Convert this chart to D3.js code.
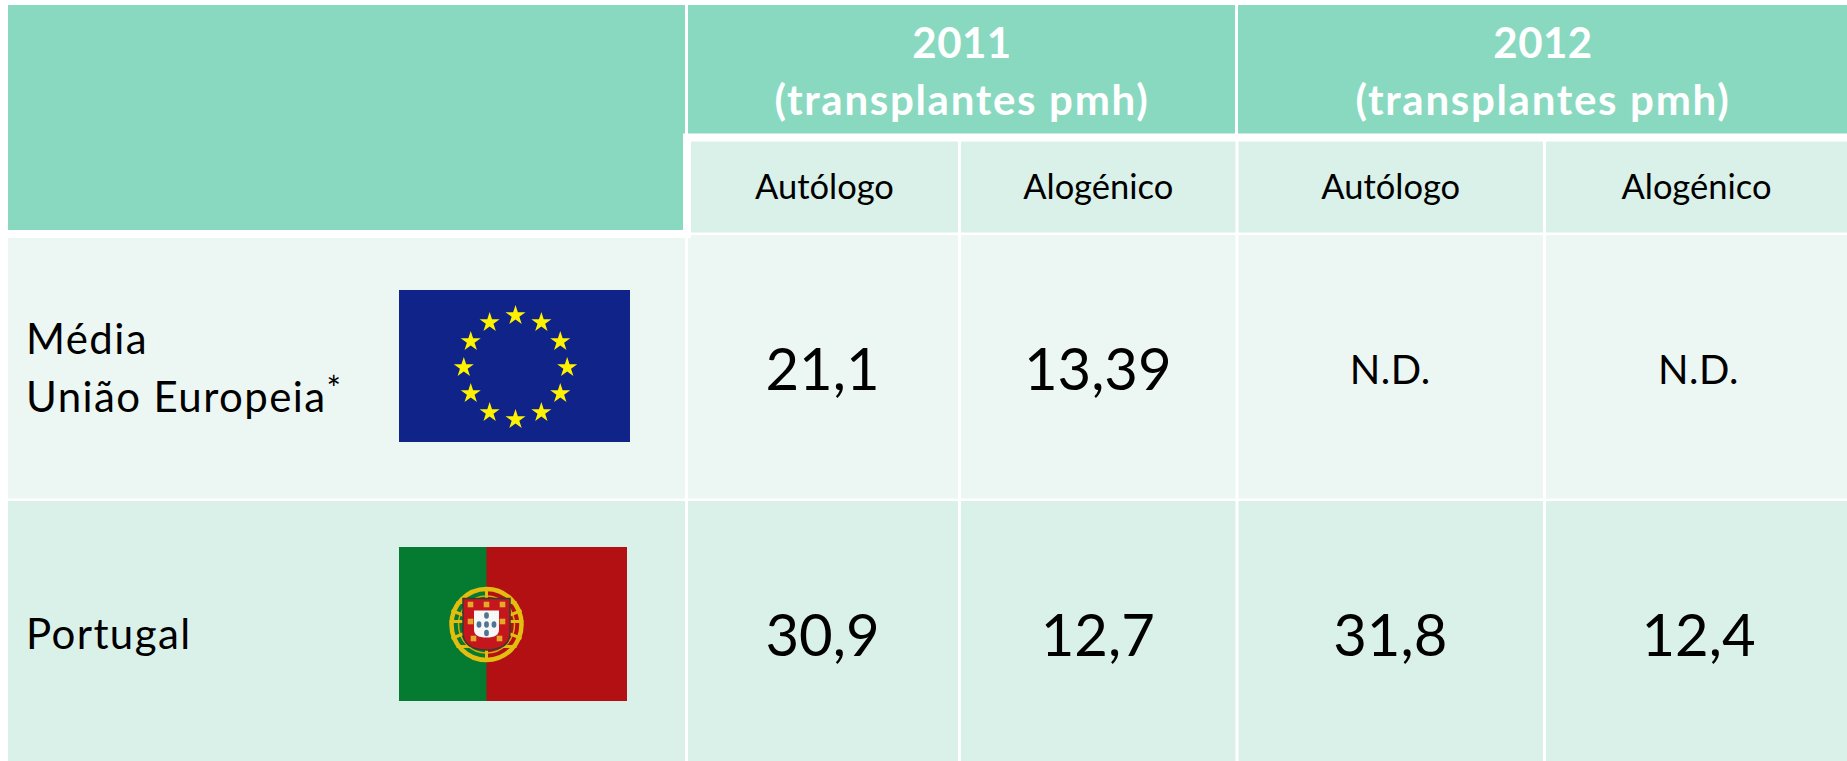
<!DOCTYPE html>
<html>
<head>
<meta charset="utf-8">
<script src="https://cdn.jsdelivr.net/npm/d3@7"></script>
<style>
html, body { margin: 0; padding: 0; background: #fff; overflow: hidden; }
text { font-family: Lato, "Open Sans", sans-serif; }
</style>
</head>
<body>
<script>
var years = ["2011", "2012"];
var unitLabel = "(transplantes pmh)";
var types = ["Autólogo", "Alogénico"];
var regions = ["Média União Europeia", "Portugal"];
var euValues = ["21,1", "13,39", "N.D.", "N.D."];
var ptValues = ["30,9", "12,7", "31,8", "12,4"];
var columns = ["2011 Autólogo", "2011 Alogénico", "2012 Autólogo", "2012 Alogénico"];

var green = "#89d9c1", pale = "#daf1e9", paler = "#ecf7f3";

var canvas = d3.select("body").append("svg")
    .attr("width", 1847)
    .attr("height", 761)
    .style("display", "block");

var colEdges = [686, 959, 1236.5, 1544, 1847];
var colX = d3.scaleOrdinal().domain(columns).range(colEdges.slice(0, 4));
var colW = d3.scaleOrdinal().domain(columns).range(d3.pairs(colEdges).map(function(p){ return p[1] - p[0]; }));
var rowY = d3.scaleOrdinal().domain(regions).range([235, 501]);
var rowH = d3.scaleOrdinal().domain(regions).range([263.5, 260]);
var rowFill = d3.scaleOrdinal().domain(regions).range([paler, pale]);

// header
canvas.append("rect").attr("x", 8).attr("y", 5).attr("width", 677).attr("height", 128.5).attr("fill", green);
canvas.append("rect").attr("x", 8).attr("y", 133).attr("width", 675).attr("height", 97).attr("fill", green);
canvas.append("rect").attr("x", 688).attr("y", 5).attr("width", 547).attr("height", 128.5).attr("fill", green);
canvas.append("rect").attr("x", 1238).attr("y", 5).attr("width", 609).attr("height", 128.5).attr("fill", green);

years.forEach(function(y, i){
    var cx = i == 0 ? 962 : 1543;
    canvas.append("text").attr("x", cx).attr("y", 58)
        .attr("text-anchor", "middle").attr("font-size", 42).attr("font-weight", 700)
        .attr("letter-spacing", 0.5)
        .attr("fill", "#fff").text(y);
    canvas.append("text").attr("x", cx).attr("y", 115)
        .attr("text-anchor", "middle").attr("font-size", 42).attr("font-weight", 700)
        .attr("letter-spacing", 1.7)
        .attr("fill", "#fff").text(unitLabel);
});

// sub header
columns.forEach(function(c, i){
    var left = i == 0 ? 691 : colX(c) + 2;
    var right = colX(c) + colW(c) - (i == 3 ? 0 : 1);
    canvas.append("rect").attr("x", left).attr("y", 141.5).attr("width", right - left).attr("height", 91).attr("fill", pale);
    canvas.append("text").attr("x", (left + right) / 2).attr("y", 199)
        .attr("text-anchor", "middle").attr("font-size", 34.5).attr("fill", "#000")
        .text(types[i % 2]);
});

// body rows
regions.forEach(function(r, k){
    canvas.append("rect").attr("x", 8).attr("y", k == 0 ? 238 : rowY(r)).attr("width", 677)
        .attr("height", k == 0 ? 260.5 : rowH(r)).attr("fill", rowFill(r));
    columns.forEach(function(c, i){
        canvas.append("rect").attr("x", colX(c) + 2).attr("y", rowY(r))
            .attr("width", colW(c) - (i == 3 ? 2 : 3)).attr("height", rowH(r)).attr("fill", rowFill(r));
    });
});
// white corner under the big header cell
canvas.append("rect").attr("x", 683).attr("y", 230).attr("width", 8).attr("height", 8).attr("fill", "#fff");

canvas.selectAll("text.label")
    .data([["Média", 354], ["União Europeia", 411.5], ["Portugal", 649]])
    .join("text")
    .attr("class", "label")
    .attr("x", 26)
    .attr("y", function(d){ return d[1]; })
    .attr("font-size", 42)
    .attr("letter-spacing", 1.4)
    .attr("fill", "#000")
    .text(function(d){ return d[0]; })
    .filter(function(d){ return d[0] == "União Europeia"; })
    .append("tspan").attr("font-size", 34).attr("dy", -10.5).text("*");

function drawValues(values, baseline){
    columns.forEach(function(c, i){
        var nd = values[i] == "N.D.";
        canvas.append("text")
            .attr("x", colX(c) + colW(c) / 2 + (i == 3 ? 3 : 0))
            .attr("y", nd ? 383.5 : baseline)
            .attr("text-anchor", "middle")
            .attr("font-size", nd ? 40 : 58)
            .attr("letter-spacing", nd ? 0.5 : 0)
            .attr("fill", "#000")
            .text(values[i]);
    });
}
drawValues(euValues, 390);
drawValues(ptValues, 655.5);

// EU flag
canvas.append("rect").attr("x", 399).attr("y", 290).attr("width", 231).attr("height", 152).attr("fill", "#0f2388");
var star = d3.symbol().type(d3.symbolStar).size(125);
d3.range(12).forEach(function(i){
    var a = i * Math.PI / 6;
    canvas.append("path").attr("d", star)
        .attr("transform", "translate(" + (515.5 + 51.7 * Math.sin(a)) + "," + (367.5 - 52 * Math.cos(a)) + ")")
        .attr("fill", "#fff200");
});

// Portuguese flag
canvas.append("rect").attr("x", 399).attr("y", 547).attr("width", 228).attr("height", 154).attr("fill", "#b31013");
canvas.append("rect").attr("x", 399).attr("y", 547).attr("width", 87.5).attr("height", 154).attr("fill", "#047b30");

var arms = canvas.append("g").attr("transform", "translate(486.5,624.5)");
arms.append("ellipse").attr("rx", 35).attr("ry", 35.5)
    .attr("fill", "none").attr("stroke", "#e3bd10").attr("stroke-width", 4.5);
arms.append("ellipse").attr("rx", 28).attr("ry", 28.5)
    .attr("fill", "none").attr("stroke", "#d9a90c").attr("stroke-width", 1.5);
[[-37, -3, 37, -3], [0, -37, 0, 37], [-35, -14, 35, 14], [-35, 14, 35, -14], [-30, 22, 30, 22], [-30, -22, 30, -22]].forEach(function(s){
    arms.append("line").attr("x1", s[0]).attr("y1", s[1]).attr("x2", s[2]).attr("y2", s[3])
        .attr("stroke", "#e3bd10").attr("stroke-width", 3);
});
var shieldPath = d3.path();
shieldPath.moveTo(-23.5, -26);
shieldPath.lineTo(23.5, -26);
shieldPath.lineTo(23.5, 8);
shieldPath.quadraticCurveTo(23.5, 25, 0, 25.5);
shieldPath.quadraticCurveTo(-23.5, 25, -23.5, 8);
shieldPath.closePath();
arms.append("path").attr("d", shieldPath.toString()).attr("fill", "#c4161c").attr("stroke", "#3a3a30").attr("stroke-width", 1.5);
var innerPath = d3.path();
innerPath.moveTo(-12.5, -14);
innerPath.lineTo(12.5, -14);
innerPath.lineTo(12.5, 5);
innerPath.quadraticCurveTo(12.5, 13, 0, 13);
innerPath.quadraticCurveTo(-12.5, 13, -12.5, 5);
innerPath.closePath();
arms.append("path").attr("d", innerPath.toString()).attr("fill", "#f7f7f5");
[[-16, -20], [0, -20], [16, -20], [-16, -3], [16, -3], [-13, 14], [13, 14]].forEach(function(p){
    arms.append("rect").attr("x", p[0] - 2.8).attr("y", p[1] - 2.8).attr("width", 5.6).attr("height", 5.6).attr("fill", "#e5a92a");
});
[[0, -9], [-7.5, 0], [0, 0], [7.5, 0], [0, 8.5]].forEach(function(p){
    arms.append("ellipse").attr("cx", p[0]).attr("cy", p[1]).attr("rx", 2.4).attr("ry", 3.2).attr("fill", "#4f7595");
});
</script>
</body>
</html>
